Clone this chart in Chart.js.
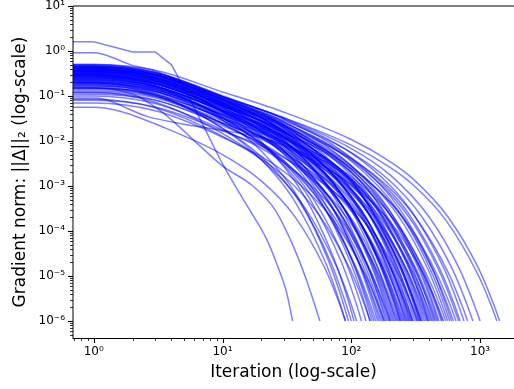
<!DOCTYPE html>
<html>
<head>
<meta charset="utf-8">
<script src="https://cdn.jsdelivr.net/npm/chart.js@4.4.1/dist/chart.umd.min.js"></script>
<style>
  html, body { margin: 0; padding: 0; background: #fff; overflow: hidden; }
  canvas { display: block; }
</style>
</head>
<body>
<canvas id="gradChart" width="514" height="389"></canvas>
<script>
// each run: [iteration, gradient norm]; iteration 0.5 stands for the clipped iteration-0 point
var run01 = [[0.5,0.3],[1,0.3],[3,0.17],[10,0.029],[20,6.0e-3],[38,6.0e-4],[66.5,2.2e-5],[85.5,2.8e-6],[95,1e-6]];
var run02 = [[0.5,0.18],[1,0.18],[3,0.105],[10,0.0194],[20,4.5e-3],[40,4.3e-4],[70,1.9e-5],[90,2.6e-6],[100,1e-6]];
var run03 = [[0.5,0.42],[1,0.42],[3,0.24],[10,0.044],[20,9.7e-3],[42,6.9e-4],[73.5,2.4e-5],[94.5,2.9e-6],[105,1e-6]];
var run04 = [[0.5,0.12],[1,0.12],[3,0.073],[10,0.0147],[20,3.8e-3],[44,3.2e-4],[77,1.6e-5],[99,2.5e-6],[110,1e-6]];
var run05 = [[0.5,0.25],[1,0.25],[3,0.155],[10,0.033],[30,3.3e-3],[52,4.6e-4],[91,2.0e-5],[117,2.7e-6],[130,1e-6]];
var run06 = [[0.5,0.35],[1,0.35],[3,0.22],[10,0.047],[30,5.0e-3],[56,5.4e-4],[98,2.1e-5],[126,2.7e-6],[140,1e-6]];
var run07 = [[0.5,0.2],[1,0.2],[3,0.128],[10,0.029],[30,3.7e-3],[60,3.7e-4],[105,1.8e-5],[135,2.6e-6],[150,1e-6]];
var run08 = [[0.5,0.45],[1,0.45],[3,0.29],[10,0.065],[30,8.0e-3],[64,5.8e-4],[112,2.2e-5],[144,2.8e-6],[160,1e-6]];
var run09 = [[0.5,0.15],[1,0.15],[3,0.098],[10,0.024],[30,3.6e-3],[68,2.9e-4],[119,1.6e-5],[153,2.5e-6],[170,1e-6]];
var run10 = [[0.5,0.3],[1,0.3],[3,0.196],[10,0.048],[30,7.1e-3],[72,4.3e-4],[126,1.9e-5],[162,2.6e-6],[180,1e-6]];
var run11 = [[0.5,0.22],[1,0.22],[3,0.146],[10,0.037],[30,5.9e-3],[76,3.5e-4],[133,1.7e-5],[171,2.5e-6],[190,1e-6]];
var run12 = [[0.5,0.38],[1,0.38],[3,0.25],[10,0.063],[30,0.0101],[80,4.7e-4],[140,2.0e-5],[180,2.7e-6],[200,1e-6]];
var run13 = [[0.5,0.1],[1,0.1],[3,0.068],[10,0.0177],[30,3.3e-3],[80,2.1e-4],[140,1.3e-5],[180,2.3e-6],[200,1e-6]];
var run14 = [[0.5,0.28],[1,0.28],[3,0.188],[10,0.048],[30,8.4e-3],[84,3.8e-4],[147,1.8e-5],[189,2.6e-6],[210,1e-6]];
var run15 = [[0.5,0.5],[1,0.5],[3,0.335],[10,0.086],[30,0.0147],[88,5.3e-4],[154,2.1e-5],[198,2.7e-6],[220,1e-6]];
var run16 = [[0.5,0.17],[1,0.17],[3,0.116],[10,0.031],[30,6.1e-3],[92,2.7e-4],[161,1.5e-5],[207,2.4e-6],[230,1e-6]];
var run17 = [[0.5,0.33],[1,0.33],[3,0.225],[10,0.06],[30,0.0115],[96,3.9e-4],[168,1.8e-5],[216,2.6e-6],[240,1e-6]];
var run18 = [[0.5,0.24],[1,0.24],[3,0.165],[10,0.045],[30,9.1e-3],[100,3.2e-4],[175,1.6e-5],[225,2.5e-6],[250,1e-6]];
var run19 = [[0.5,0.44],[1,0.44],[3,0.3],[10,0.081],[30,0.0161],[104,4.5e-4],[182,1.9e-5],[234,2.7e-6],[260,1e-6]];
var run20 = [[0.5,0.13],[1,0.13],[3,0.091],[10,0.0255],[30,5.7e-3],[108,2.1e-4],[189,1.3e-5],[243,2.3e-6],[270,1e-6]];
var run21 = [[0.5,0.36],[1,0.36],[3,0.25],[10,0.069],[30,0.0146],[112,3.8e-4],[196,1.8e-5],[252,2.6e-6],[280,1e-6]];
var run22 = [[0.5,0.27],[1,0.27],[3,0.188],[10,0.053],[30,0.0117],[116,3.2e-4],[203,1.6e-5],[261,2.5e-6],[290,1e-6]];
var run23 = [[0.5,0.2],[1,0.2],[3,0.14],[10,0.04],[30,9.2e-3],[120,2.6e-4],[210,1.5e-5],[270,2.4e-6],[300,1e-6]];
var run24 = [[0.5,0.47],[1,0.47],[3,0.327],[10,0.091],[30,0.0199],[120,4.3e-4],[210,1.9e-5],[270,2.6e-6],[300,1e-6]];
var run25 = [[0.5,0.31],[1,0.31],[3,0.217],[10,0.062],[30,0.0145],[128,3.3e-4],[224,1.7e-5],[288,2.5e-6],[320,1e-6]];
var run26 = [[0.5,0.08],[1,0.08],[3,0.057],[10,0.0168],[30,4.3e-3],[132,1.4e-4],[231,1.1e-5],[297,2.2e-6],[330,1e-6]];
var run27 = [[0.5,0.4],[1,0.4],[3,0.281],[10,0.081],[30,0.0192],[100,1.19e-3],[136,3.7e-4],[238,1.8e-5],[306,2.6e-6],[340,1e-6]];
var run28 = [[0.5,0.23],[1,0.23],[3,0.163],[10,0.048],[30,0.0119],[100,8.6e-4],[140,2.6e-4],[245,1.5e-5],[315,2.4e-6],[350,1e-6]];
var run29 = [[0.5,0.34],[1,0.34],[3,0.241],[10,0.07],[30,0.0177],[100,1.32e-3],[148,3.2e-4],[259,1.6e-5],[333,2.5e-6],[370,1e-6]];
var run30 = [[0.5,0.15],[1,0.15],[3,0.107],[10,0.032],[30,8.6e-3],[100,8.1e-4],[156,1.9e-4],[273,1.3e-5],[351,2.3e-6],[390,1e-6]];
var run31 = [[0.5,0.29],[1,0.29],[3,0.207],[10,0.0615],[30,0.0161],[100,1.41e-3],[160,2.8e-4],[280,1.5e-5],[360,2.5e-6],[400,1e-6]];
var run32 = [[0.5,0.42],[1,0.42],[3,0.3],[10,0.089],[30,0.0236],[100,2.07e-3],[168,3.4e-4],[294,1.7e-5],[378,2.5e-6],[420,1e-6]];
var run33 = [[0.5,0.19],[1,0.19],[3,0.137],[10,0.042],[30,0.0117],[100,1.3e-3],[180,2.0e-4],[315,1.3e-5],[405,2.3e-6],[450,1e-6]];
var run34 = [[0.5,0.37],[1,0.37],[3,0.266],[10,0.081],[30,0.0224],[100,2.37e-3],[188,3.0e-4],[329,1.6e-5],[423,2.5e-6],[470,1e-6]];
var run35 = [[0.5,0.26],[1,0.26],[3,0.188],[10,0.058],[30,0.0167],[100,2.0e-3],[200,2.3e-4],[350,1.4e-5],[450,2.4e-6],[500,1e-6]];
var run36 = [[0.5,0.11],[1,0.11],[3,0.08],[10,0.025],[30,7.6e-3],[100,1.07e-3],[208,1.4e-4],[364,1.1e-5],[468,2.2e-6],[520,1e-6]];
var run37 = [[0.5,0.32],[1,0.32],[3,0.233],[10,0.072],[30,0.0214],[100,2.86e-3],[224,2.5e-4],[392,1.45e-5],[504,2.4e-6],[560,1e-6]];
var run38 = [[0.5,0.45],[1,0.45],[3,0.327],[10,0.102],[30,0.0305],[100,4.2e-3],[240,3.0e-4],[420,1.6e-5],[540,2.5e-6],[600,1e-6]];
var run39 = [[0.5,0.21],[1,0.21],[3,0.154],[10,0.049],[30,0.0153],[100,2.48e-3],[260,1.8e-4],[455,1.2e-5],[585,2.3e-6],[650,1e-6]];
var run40 = [[0.5,0.35],[1,0.35],[3,0.256],[10,0.0815],[30,0.0256],[100,4.2e-3],[200,7.7e-4],[280,2.4e-4],[490,1.4e-5],[630,2.4e-6],[700,1e-6]];
var run41 = [[0.5,0.28],[1,0.28],[3,0.207],[10,0.066],[30,0.0216],[100,4.0e-3],[200,8.8e-4],[320,1.9e-4],[560,1.27e-5],[720,2.3e-6],[800,1e-6]];
var run42 = [[0.5,0.4],[1,0.4],[3,0.296],[10,0.096],[30,0.0325],[100,6.8e-3],[200,1.77e-3],[400,2.1e-4],[700,1.34e-5],[900,2.3e-6],[1000,1e-6]];
var run43 = [[0.5,0.38],[1,0.38],[3,0.284],[10,0.0935],[30,0.033],[100,8.1e-3],[200,2.6e-3],[300,1.08e-3],[540,1.77e-4],[945,1.2e-5],[1215,2.3e-6],[1350,1e-6]];
var run44 = [[0.5,0.5],[1,0.5],[3,0.373],[10,0.123],[30,0.0437],[100,0.0108],[200,3.5e-3],[300,1.46e-3],[568,2.0e-4],[994,1.3e-5],[1278,2.3e-6],[1420,1e-6]];
// the odd ones
var run45 = [[0.5,1.6],[1,1.6],[2,0.95],[3,0.95],[4,0.5],[5,0.158],[6,0.057],[8,0.011],[10,3.1e-3],[13.7,6.6e-4],[16.3,2.9e-4],[22,6.6e-5],[26.4,1.85e-5],[31.4,4.4e-6],[35,1e-6]];
var run46 = [[0.5,0.92],[1,0.92],[2,0.48],[3,0.36],[10,0.07],[30,0.013],[96,3.9e-4],[168,1.8e-5],[216,2.6e-6],[240,1e-6]];
var run47 = [[0.5,0.056],[1,0.056],[1.6,0.046],[3.3,0.0215],[10,5.0e-3],[20,1.3e-3],[36,2.2e-4],[63,1.4e-5],[81,2.4e-6],[90,1e-6]];
var run48 = [[0.5,0.09],[1,0.09],[2.7,0.034],[4.9,0.024],[9,0.018],[20,0.012],[30,8e-3],[100,1.3e-3],[140,3e-4],[245,1.5e-5],[315,2.4e-6],[350,1e-6]];
var run49 = [[0.5,0.15],[1,0.15],[2,0.11],[3.4,0.044],[6.7,7.7e-3],[10,2.8e-3],[17.2,1.0e-3],[25.5,3.0e-4],[35,5e-5],[45,8e-6],[52,2.3e-6],[57,1e-6]];
var run50 = [[0.5,0.2],[1,0.2],[3,0.112],[10,0.0191],[20,3.9e-3],[36,4.8e-4],[63,2.0e-5],[81,2.7e-6],[90,1e-6]];
var run51 = [[0.5,0.07],[1,0.07],[3,0.047],[10,0.0121],[30,2.1e-3],[72,1.8e-4],[126,1.2e-5],[162,2.3e-6],[180,1e-6]];
var run52 = [[0.5,0.085],[1,0.085],[3,0.055],[10,0.0127],[30,1.65e-3],[56,2.3e-4],[98,1.4e-5],[126,2.4e-6],[140,1e-6]];
// more runs in the thick middle of the bundle
var run53 = [[0.5,0.27],[1,0.27],[3,0.163],[10,0.033],[30,2.9e-3],[48,5.0e-4],[84,2.0e-5],[108,2.7e-6],[120,1e-6]];
var run54 = [[0.5,0.41],[1,0.41],[3,0.256],[10,0.0561],[30,6.1e-3],[58,5.8e-4],[101.5,2.2e-5],[130.5,2.8e-6],[145,1e-6]];
var run55 = [[0.5,0.16],[1,0.16],[3,0.103],[10,0.0243],[30,3.3e-3],[62,3.2e-4],[108.5,1.6e-5],[139.5,2.5e-6],[155,1e-6]];
var run56 = [[0.5,0.3],[1,0.3],[3,0.194],[10,0.0455],[30,6.1e-3],[66,4.5e-4],[115.5,1.9e-5],[148.5,2.7e-6],[165,1e-6]];
var run57 = [[0.5,0.22],[1,0.22],[3,0.144],[10,0.0352],[30,5.2e-3],[70,3.6e-4],[122.5,1.75e-5],[157.5,2.6e-6],[175,1e-6]];
var run58 = [[0.5,0.46],[1,0.46],[3,0.301],[10,0.0728],[30,0.0106],[74,5.5e-4],[129.5,2.1e-5],[166.5,2.7e-6],[185,1e-6]];
var run59 = [[0.5,0.19],[1,0.19],[3,0.127],[10,0.0323],[30,5.4e-3],[78,3.1e-4],[136.5,1.6e-5],[175.5,2.5e-6],[195,1e-6]];
var run60 = [[0.5,0.34],[1,0.34],[3,0.226],[10,0.0574],[30,9.5e-3],[82,4.3e-4],[143.5,1.9e-5],[184.5,2.6e-6],[205,1e-6]];
var run61 = [[0.5,0.25],[1,0.25],[3,0.169],[10,0.0439],[30,7.8e-3],[86,3.5e-4],[150.5,1.7e-5],[193.5,2.6e-6],[215,1e-6]];
var run62 = [[0.5,0.12],[1,0.12],[3,0.082],[10,0.0221],[30,4.4e-3],[90,2.2e-4],[157.5,1.37e-5],[202.5,2.4e-6],[225,1e-6]];
var run63 = [[0.5,0.38],[1,0.38],[3,0.258],[10,0.0679],[30,0.0126],[94,4.3e-4],[164.5,1.9e-5],[211.5,2.6e-6],[235,1e-6]];
var run64 = [[0.5,0.29],[1,0.29],[3,0.198],[10,0.0532],[30,0.0104],[98,3.6e-4],[171.5,1.7e-5],[220.5,2.6e-6],[245,1e-6]];
var run65 = [[0.5,0.2],[1,0.2],[3,0.138],[10,0.0378],[30,7.9e-3],[102,2.8e-4],[178.5,1.5e-5],[229.5,2.5e-6],[255,1e-6]];
var run66 = [[0.5,0.43],[1,0.43],[3,0.295],[10,0.08],[30,0.0162],[106,4.4e-4],[185.5,1.9e-5],[238.5,2.6e-6],[265,1e-6]];
var run67 = [[0.5,0.24],[1,0.24],[3,0.166],[10,0.0462],[30,0.01],[110,3.0e-4],[192.5,1.6e-5],[247.5,2.5e-6],[275,1e-6]];
var run68 = [[0.5,0.33],[1,0.33],[3,0.229],[10,0.0637],[30,0.0138],[114,3.6e-4],[199.5,1.7e-5],[256.5,2.6e-6],[285,1e-6]];
var run69 = [[0.5,0.14],[1,0.14],[3,0.098],[10,0.0281],[30,6.6e-3],[118,2.1e-4],[206.5,1.3e-5],[265.5,2.3e-6],[295,1e-6]];
var run70 = [[0.5,0.37],[1,0.37],[3,0.258],[10,0.073],[30,0.0166],[124,3.7e-4],[217,1.8e-5],[279,2.6e-6],[310,1e-6]];
var run71 = [[0.5,0.26],[1,0.26],[3,0.183],[10,0.0526],[30,0.0125],[130,2.9e-4],[227.5,1.6e-5],[292.5,2.5e-6],[325,1e-6]];
var run72 = [[0.5,0.48],[1,0.48],[3,0.337],[10,0.0962],[30,0.0224],[100,1.3e-3],[134,4.1e-4],[234.5,1.9e-5],[301.5,2.6e-6],[335,1e-6]];
var run73 = [[0.5,0.18],[1,0.18],[3,0.128],[10,0.0373],[30,9.4e-3],[100,7.0e-4],[138,2.3e-4],[241.5,1.4e-5],[310.5,2.4e-6],[345,1e-6]];
var run74 = [[0.5,0.31],[1,0.31],[3,0.219],[10,0.064],[30,0.0159],[100,1.15e-3],[144,3.1e-4],[252,1.6e-5],[324,2.5e-6],[360,1e-6]];
var run75 = [[0.5,0.23],[1,0.23],[3,0.164],[10,0.0486],[30,0.0126],[100,1.05e-3],[152,2.5e-4],[266,1.45e-5],[342,2.4e-6],[380,1e-6]];
var run76 = [[0.5,0.4],[1,0.4],[3,0.284],[10,0.0839],[30,0.0216],[100,1.74e-3],[158,3.4e-4],[276.5,1.7e-5],[355.5,2.5e-6],[395,1e-6]];
var run77 = [[0.5,0.28],[1,0.28],[3,0.2],[10,0.0598],[30,0.0159],[100,1.45e-3],[164,2.7e-4],[287,1.5e-5],[369,2.4e-6],[410,1e-6]];
var run78 = [[0.5,0.15],[1,0.15],[3,0.108],[10,0.0328],[30,9.2e-3],[100,9.9e-4],[172,1.8e-4],[301,1.24e-5],[387,2.3e-6],[430,1e-6]];
var run79 = [[0.5,0.35],[1,0.35],[3,0.251],[10,0.0755],[30,0.0205],[100,2.0e-3],[176,3.0e-4],[308,1.6e-5],[396,2.5e-6],[440,1e-6]];
var run80 = [[0.5,0.21],[1,0.21],[3,0.151],[10,0.0462],[30,0.013],[100,1.46e-3],[184,2.1e-4],[322,1.35e-5],[414,2.3e-6],[460,1e-6]];
var run81 = [[0.5,0.44],[1,0.44],[3,0.316],[10,0.096],[30,0.0267],[100,2.83e-3],[192,3.3e-4],[336,1.66e-5],[432,2.5e-6],[480,1e-6]];
var run82 = [[0.5,0.3],[1,0.3],[3,0.217],[10,0.0667],[30,0.0193],[100,2.33e-3],[204,2.5e-4],[357,1.46e-5],[459,2.4e-6],[510,1e-6]];
var run83 = [[0.5,0.17],[1,0.17],[3,0.124],[10,0.0385],[30,0.0116],[100,1.61e-3],[216,1.75e-4],[378,1.2e-5],[486,2.3e-6],[540,1e-6]];
var run84 = [[0.5,0.39],[1,0.39],[3,0.284],[10,0.0881],[30,0.0262],[100,3.56e-3],[232,2.8e-4],[406,1.5e-5],[522,2.5e-6],[580,1e-6]];
var run85 = [[0.5,0.25],[1,0.25],[3,0.183],[10,0.0575],[30,0.0177],[100,2.7e-3],[248,2.05e-4],[434,1.3e-5],[558,2.3e-6],[620,1e-6]];
var run86 = [[0.5,0.32],[1,0.32],[3,0.234],[10,0.0743],[30,0.0233],[100,3.77e-3],[272,2.3e-4],[476,1.4e-5],[612,2.4e-6],[680,1e-6]];
var run87 = [[0.5,0.42],[1,0.42],[3,0.308],[10,0.0982],[30,0.0313],[100,5.4e-3],[200,1.03e-3],[300,2.5e-4],[525,1.46e-5],[675,2.4e-6],[750,1e-6]];
var run88 = [[0.5,0.36],[1,0.36],[3,0.266],[10,0.0857],[30,0.0284],[100,5.5e-3],[200,1.29e-3],[352,2.1e-4],[616,1.34e-5],[792,2.3e-6],[880,1e-6]];

var runs = [run01, run02, run03, run04, run05, run06, run07, run08, run09, run10,
            run11, run12, run13, run14, run15, run16, run17, run18, run19, run20,
            run21, run22, run23, run24, run25, run26, run27, run28, run29, run30,
            run31, run32, run33, run34, run35, run36, run37, run38, run39, run40,
            run41, run42, run43, run44, run45, run46, run47, run48, run49, run50,
            run51, run52, run53, run54, run55, run56, run57, run58, run59, run60,
            run61, run62, run63, run64, run65, run66, run67, run68, run69, run70,
            run71, run72, run73, run74, run75, run76, run77, run78, run79, run80,
            run81, run82, run83, run84, run85, run86, run87, run88];

var xTickValues = [1, 10, 100, 1000];
var xTickLabels = ['10\u2070', '10\u00b9', '10\u00b2', '10\u00b3'];
var yTickValues = [1e-6, 1e-5, 1e-4, 1e-3, 1e-2, 1e-1, 1, 10];
var yTickLabels = ['10\u207b\u2076', '10\u207b\u2075', '10\u207b\u2074', '10\u207b\u00b3',
                   '10\u207b\u00b2', '10\u207b\u00b9', '10\u2070', '10\u00b9'];

function isSame(a, b) {
    return Math.abs(Math.log10(a) - Math.log10(b)) < 1e-9;
}
function isDecade(v) {
    var l = Math.log10(v);
    return Math.abs(l - Math.round(l)) < 1e-9;
}
function labelFor(values, labels) {
    return function (value) {
        for (var i = 0; i < values.length; i++) {
            if (isSame(value, values[i])) return labels[i];
        }
        return '';
    };
}
// matplotlib style log ticks: 1..9 x 10^n inside the range
function logTicks(scale) {
    var ticks = [];
    var lo = Math.floor(Math.log10(scale.min));
    var hi = Math.ceil(Math.log10(scale.max));
    for (var e = lo; e <= hi; e++) {
        for (var m = 1; m < 10; m++) {
            var v = parseFloat((m * Math.pow(10, e)).toPrecision(6));
            if (v >= scale.min && v <= scale.max) ticks.push({ value: v, major: m === 1 });
        }
    }
    scale.ticks = ticks;
}

function lineSet(data, mode) {
    return {
        data: data,
        borderColor: 'rgba(0, 0, 255, 0.5)',
        borderWidth: 1.5,
        pointRadius: 0,
        fill: false,
        clip: 0,
        tension: 0,
        cubicInterpolationMode: mode
    };
}

// the 1.6 run has visible straight steps at the start, so its head is drawn unsmoothed
var datasets = [];
runs.forEach(function (run) {
    if (run === run45) {
        datasets.push(lineSet(run.slice(0, 6), 'default'));
        datasets.push(lineSet(run.slice(5), 'monotone'));
    } else {
        datasets.push(lineSet(run, 'monotone'));
    }
});

var axisFont = { family: 'DejaVu Sans', size: 17 };
var tickFont = { family: 'DejaVu Sans', size: 12 };

// tick marks and spines, drawn like matplotlib
var frame = {
    id: 'frame',
    afterDraw: function (chart) {
        var ctx = chart.ctx, a = chart.chartArea;
        var xs = chart.scales.x, ys = chart.scales.y;
        ctx.save();
        ctx.strokeStyle = '#000';
        xs.ticks.forEach(function (t) {
            var big = isDecade(t.value);
            var px = Math.round(xs.getPixelForValue(t.value)) + 0.5;
            ctx.lineWidth = big ? 1.1 : 0.8;
            ctx.beginPath();
            ctx.moveTo(px, a.bottom);
            ctx.lineTo(px, a.bottom + (big ? 5 : 3));
            ctx.stroke();
        });
        ys.ticks.forEach(function (t) {
            var big = isDecade(t.value);
            var py = Math.round(ys.getPixelForValue(t.value)) + 0.5;
            ctx.lineWidth = big ? 1.1 : 0.8;
            ctx.beginPath();
            ctx.moveTo(a.left, py);
            ctx.lineTo(a.left - (big ? 5 : 3), py);
            ctx.stroke();
        });
        ctx.lineWidth = 1;
        ctx.beginPath();
        ctx.moveTo(a.left, a.bottom + 0.5);
        ctx.lineTo(a.right, a.bottom + 0.5);
        ctx.stroke();
        ctx.beginPath();
        ctx.moveTo(a.left, a.top);
        ctx.lineTo(a.left, a.bottom + 1);
        ctx.stroke();
        ctx.beginPath();
        ctx.moveTo(a.left, a.top);
        ctx.lineTo(a.right, a.top);
        ctx.stroke();
        ctx.restore();
    }
};

var ctxGrad = document.getElementById('gradChart').getContext('2d');

var gradChart = new Chart(ctxGrad, {
    type: 'line',
    data: { datasets: datasets },
    options: {
        responsive: false,
        animation: false,
        devicePixelRatio: 1,
        events: [],
        layout: { padding: { top: 6, right: 0, bottom: 0, left: 0 } },
        plugins: {
            legend: { display: false },
            tooltip: { enabled: false }
        },
        scales: {
            x: {
                type: 'logarithmic',
                position: 'bottom',
                min: 0.69,
                max: 1834,
                border: { display: false },
                grid: { drawOnChartArea: false, drawTicks: true, tickLength: 5, tickColor: 'rgba(0,0,0,0)' },
                ticks: {
                    autoSkip: false,
                    maxRotation: 0,
                    padding: 2,
                    color: '#000',
                    font: tickFont,
                    callback: labelFor(xTickValues, xTickLabels)
                },
                title: {
                    display: true,
                    text: 'Iteration (log-scale)',
                    color: '#000',
                    font: axisFont,
                    padding: { top: 0, bottom: 6 }
                },
                afterBuildTicks: logTicks,
                afterFit: function (scale) {
                    scale.height = 51;
                    scale.paddingLeft = 0;
                    scale.paddingRight = 0;
                }
            },
            y: {
                type: 'logarithmic',
                min: 4.2e-7,
                max: 10,
                border: { display: false },
                grid: { drawOnChartArea: false, drawTicks: true, tickLength: 5, tickColor: 'rgba(0,0,0,0)' },
                ticks: {
                    autoSkip: false,
                    padding: 3,
                    color: '#000',
                    font: tickFont,
                    callback: labelFor(yTickValues, yTickLabels)
                },
                title: {
                    display: true,
                    text: 'Gradient norm: ||\u0394||\u2082 (log-scale)',
                    color: '#000',
                    font: axisFont,
                    padding: { top: 10, bottom: 0 }
                },
                afterBuildTicks: logTicks,
                afterFit: function (scale) {
                    scale.width = 73;
                    scale.paddingTop = 0;
                    scale.paddingBottom = 0;
                }
            }
        }
    },
    plugins: [frame]
});
</script>
</body>
</html>
